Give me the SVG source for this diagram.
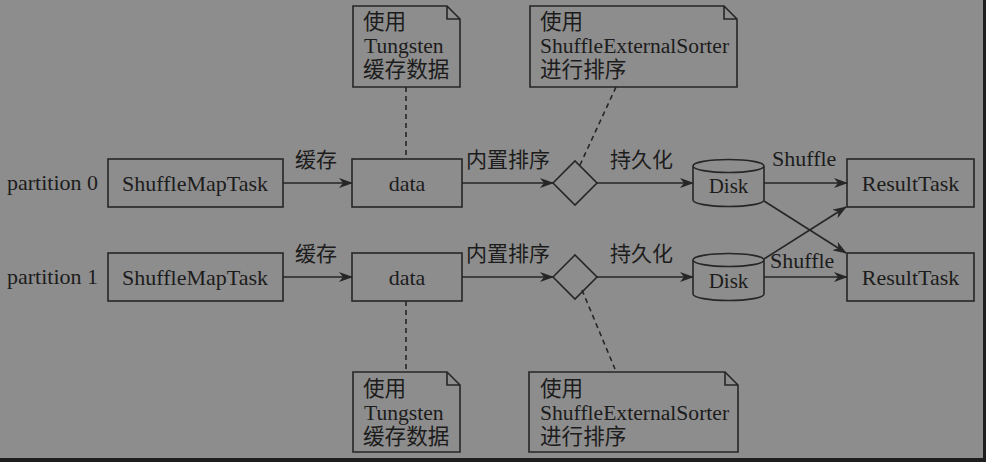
<svg xmlns="http://www.w3.org/2000/svg" width="986" height="462" viewBox="0 0 986 462">
<style>
text{font-family:"Liberation Serif","Noto Sans CJK SC",serif;fill:#1c1c1c;}
.t{font-size:22px;}
.c{font-size:21px;}
.n{font-size:21.6px;}
.box{fill:none;stroke:#262626;stroke-width:1.6;}
.ln{fill:none;stroke:#262626;stroke-width:1.6;}
.dash{fill:none;stroke:#262626;stroke-width:1.6;stroke-dasharray:5,4;}
</style>
<defs>
<marker id="ah" markerWidth="14" markerHeight="10" refX="13" refY="5" orient="auto" markerUnits="userSpaceOnUse">
<path d="M0,0 L14,5 L0,10 L4,5 Z" fill="#262626"/>
</marker>
</defs>
<rect width="986" height="462" fill="#8d8d8d"/>
<rect x="983" y="0" width="3" height="462" fill="#1e1e1e"/>
<rect x="0" y="458" width="986" height="4" fill="#1e1e1e"/>

<text class="t" x="7" y="190">partition 0</text>
<text class="t" x="7" y="284">partition 1</text>

<g id="connectors">
<line class="ln" x1="283" y1="183" x2="352" y2="183" marker-end="url(#ah)"/>
<line class="ln" x1="462" y1="183" x2="553" y2="183" marker-end="url(#ah)"/>
<line class="ln" x1="596" y1="183" x2="693" y2="183" marker-end="url(#ah)"/>
<line class="ln" x1="764" y1="183" x2="847" y2="183" marker-end="url(#ah)"/>
<line class="ln" x1="764" y1="201" x2="846" y2="253" marker-end="url(#ah)"/>
<line class="ln" x1="283" y1="277" x2="352" y2="277" marker-end="url(#ah)"/>
<line class="ln" x1="462" y1="277" x2="553" y2="277" marker-end="url(#ah)"/>
<line class="ln" x1="596" y1="277" x2="693" y2="277" marker-end="url(#ah)"/>
<line class="ln" x1="764" y1="277" x2="847" y2="277" marker-end="url(#ah)"/>
<line class="ln" x1="764" y1="259" x2="846" y2="207" marker-end="url(#ah)"/>
<line class="dash" x1="406" y1="87" x2="406" y2="159"/>
<line class="dash" x1="616" y1="87" x2="580" y2="165"/>
<line class="dash" x1="406" y1="301" x2="406" y2="372"/>
<line class="dash" x1="582" y1="290" x2="615" y2="369"/>
<text class="c" x="316" y="167" text-anchor="middle">缓存</text>
<text class="c" x="466" y="167">内置排序</text>
<text class="c" x="610" y="167">持久化</text>
<text class="t" x="772" y="166">Shuffle</text>
<text class="c" x="316" y="261" text-anchor="middle">缓存</text>
<text class="c" x="466" y="261">内置排序</text>
<text class="c" x="610" y="261">持久化</text>
<text class="t" x="770" y="268">Shuffle</text>
</g>

<g id="smt0"><rect class="box" x="108" y="159" width="175" height="48"/><text class="t" x="195" y="191" text-anchor="middle">ShuffleMapTask</text></g>
<g id="data0"><rect class="box" x="352" y="159" width="110" height="48"/><text class="t" x="407" y="191" text-anchor="middle">data</text></g>
<g id="sort0"><path class="box" d="M553,183 L575,161 L597,183 L575,205 Z"/></g>
<g id="disk0"><path class="box" d="M693,166 L693,200 A35.5,6.5 0 0 0 764,200 L764,166 A35.5,6.5 0 0 0 693,166 A35.5,6.5 0 0 0 764,166"/><text class="t" x="728.5" y="193" text-anchor="middle" style="font-size:21px">Disk</text></g>
<g id="rt0"><rect class="box" x="847" y="159" width="127" height="48"/><text class="t" x="910.5" y="191" text-anchor="middle">ResultTask</text></g>
<g id="note0a"><path class="box" d="M353,6 L447,6 L460,19 L460,87 L353,87 Z M447,6 L447,19 L460,19"/><text class="n" x="363" y="29">使用</text><text class="n" x="364" y="53">Tungsten</text><text class="n" x="363" y="77">缓存数据</text></g>
<g id="note0b"><path class="box" d="M530,6 L724,6 L737,19 L737,87 L530,87 Z M724,6 L724,19 L737,19"/><text class="n" x="540" y="29">使用</text><text class="n" x="540" y="53">ShuffleExternalSorter</text><text class="n" x="540" y="77">进行排序</text></g>

<g id="smt1"><rect class="box" x="108" y="253" width="175" height="48"/><text class="t" x="195" y="285" text-anchor="middle">ShuffleMapTask</text></g>
<g id="data1"><rect class="box" x="352" y="253" width="110" height="48"/><text class="t" x="407" y="285" text-anchor="middle">data</text></g>
<g id="sort1"><path class="box" d="M553,277 L575,255 L597,277 L575,299 Z"/></g>
<g id="disk1"><path class="box" d="M693,260 L693,294 A35.5,6.5 0 0 0 764,294 L764,260 A35.5,6.5 0 0 0 693,260 A35.5,6.5 0 0 0 764,260"/><text class="t" x="728.5" y="288" text-anchor="middle" style="font-size:21px">Disk</text></g>
<g id="rt1"><rect class="box" x="847" y="253" width="127" height="48"/><text class="t" x="910.5" y="285" text-anchor="middle">ResultTask</text></g>
<g id="note1a"><path class="box" d="M353,372 L447,372 L460,385 L460,452 L353,452 Z M447,372 L447,385 L460,385"/><text class="n" x="363" y="396">使用</text><text class="n" x="364" y="420">Tungsten</text><text class="n" x="363" y="444">缓存数据</text></g>
<g id="note1b"><path class="box" d="M529,372 L725,372 L738,385 L738,452 L529,452 Z M725,372 L725,385 L738,385"/><text class="n" x="540" y="396">使用</text><text class="n" x="540" y="420">ShuffleExternalSorter</text><text class="n" x="540" y="444">进行排序</text></g>
</svg>
